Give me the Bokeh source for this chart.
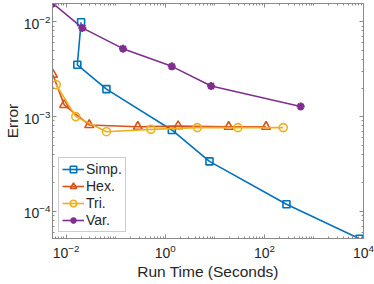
import numpy as np
from bokeh.plotting import figure
from bokeh.models import Range1d, FixedTicker, LogAxis, CustomJSTickFormatter
from bokeh.embed import file_html
from bokeh.resources import INLINE

# ---- data ----
simp_time = [0.0200, 0.0168, 0.0649, 1.355, 7.8, 279.0, 8300.0]
simp_err = [0.0099, 0.00352, 0.00195, 0.000723, 0.000337, 0.000119, 0.0000515]
hex_time = [0.0054, 0.00912, 0.0292, 0.279, 1.82, 19.0, 108.0]
hex_err = [0.00277, 0.00133, 0.000817, 0.000783, 0.000794, 0.000783, 0.000783]
tri_time = [0.0063, 0.0156, 0.0649, 0.515, 4.43, 29.2, 240.0]
tri_err = [0.00217, 0.00100, 0.000693, 0.000734, 0.000766, 0.000766, 0.000766]
var_time = [0.0054, 0.0212, 0.140, 1.355, 8.43, 540.0]
var_err = [0.0156, 0.00863, 0.00521, 0.00339, 0.00210, 0.00128]

series_names = ["Simp.", "Hex.", "Tri.", "Var."]
x_major_ticks = [1e-2, 1e0, 1e2, 1e4]
y_major_ticks = [1e-4, 1e-3, 1e-2]
x_limits = (0.0053, 1e4)
y_limits = (5.18e-5, 0.0156)

FONT = "Liberation Sans"
TXT = "#262626"
AX = "#8a8a8a"

def minors(lo_exp, hi_exp):
    out = []
    for e in range(lo_exp, hi_exp + 1):
        for m in range(1, 10):
            out.append(m * 10.0 ** e)
    return out

x_minor = minors(-3, 4)
y_minor = minors(-5, -2)

p = figure(width=374, height=284, x_axis_type="log", y_axis_type="log",
           x_range=Range1d(*x_limits), y_range=Range1d(*y_limits),
           output_backend="svg", toolbar_location=None,
           min_border_left=45, min_border_right=11, min_border_top=3, min_border_bottom=46)
p.background_fill_color = "white"
p.border_fill_color = "white"
p.grid.visible = False
p.outline_line_color = AX

xt = FixedTicker(ticks=x_major_ticks, minor_ticks=x_minor)
yt = FixedTicker(ticks=y_major_ticks, minor_ticks=y_minor)

for ax, t in ((p.xaxis[0], xt), (p.yaxis[0], yt)):
    ax.ticker = t
    ax.axis_line_color = AX
    ax.major_tick_line_color = AX
    ax.minor_tick_line_color = AX
    ax.major_tick_in = 4
    ax.major_tick_out = 0
    ax.minor_tick_in = 2
    ax.minor_tick_out = 0
    ax.major_label_text_font = FONT
    ax.major_label_text_font_size = "14px"
    ax.major_label_text_color = TXT
    ax.axis_label_text_font = FONT
    ax.axis_label_text_font_size = "15.5px"
    ax.axis_label_text_font_style = "normal"
    ax.axis_label_text_color = TXT
    ax.axis_label_text_line_height = 0.9

p.xaxis.axis_label = "Run Time (Seconds)"
p.yaxis.axis_label = "Error"
p.xaxis.major_label_standoff = 5
p.xaxis.axis_label_standoff = 2
p.yaxis.major_label_standoff = 2
p.yaxis.axis_label_standoff = 0

blank = CustomJSTickFormatter(code="return ''")
for loc, t in (("above", FixedTicker(ticks=x_major_ticks, minor_ticks=x_minor)),
               ("right", FixedTicker(ticks=y_major_ticks, minor_ticks=y_minor))):
    a = LogAxis(ticker=t, formatter=blank, major_label_text_font_size="0px",
                major_label_standoff=0, axis_label_standoff=0,
                major_tick_in=4, major_tick_out=0, minor_tick_in=2, minor_tick_out=0,
                axis_line_color=AX, major_tick_line_color=AX, minor_tick_line_color=AX)
    p.add_layout(a, loc)

colors = ["#0072BD", "#D95319", "#EDB120", "#7E2F8E"]
markers = ["square", "triangle", "circle", "asterisk"]
sizes = [7, 9, 8, 8]
data = [(simp_time, simp_err), (hex_time, hex_err), (tri_time, tri_err), (var_time, var_err)]

for (xs, ys), c, m, s, name in zip(data, colors, markers, sizes, series_names):
    p.line(xs, ys, line_color=c, line_width=1.6, legend_label=name)
    if m == "asterisk":
        p.scatter(xs, ys, marker=m, size=s, line_color=c, line_width=2.2, legend_label=name)
    else:
        p.scatter(xs, ys, marker=m, size=s, line_color=c, fill_color=None, line_width=1.6,
                  legend_label=name)

lg = p.legend[0]
lg.location = "bottom_left"
lg.margin = 6
lg.padding = 3
lg.spacing = 1
lg.glyph_width = 22
lg.glyph_height = 16
lg.label_height = 16
lg.label_standoff = 2
lg.label_text_font = FONT
lg.label_text_font_size = "14px"
lg.label_text_color = TXT
lg.border_line_color = "#999999"
lg.border_line_width = 1
lg.background_fill_color = "white"
lg.background_fill_alpha = 1.0

open("out.html", "w").write(file_html(p, INLINE))
